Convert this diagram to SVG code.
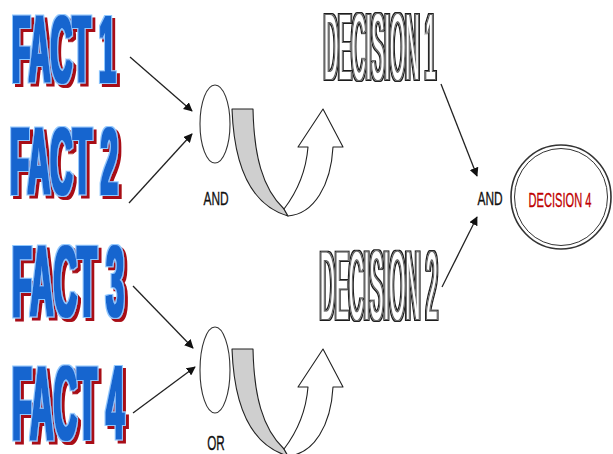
<svg xmlns="http://www.w3.org/2000/svg" width="613" height="454" viewBox="0 0 613 454">
  <defs>
    <marker id="arrowHead" viewBox="0 0 10 10" refX="9" refY="5" markerWidth="9" markerHeight="9" markerUnits="userSpaceOnUse" orient="auto">
      <path d="M0,0 L10,5 L0,10 Z" fill="#111"/>
    </marker>

    <!-- heavy blue lettering: thickened face, pale blue halo, dark red drop shadow -->
    <filter id="factFx" filterUnits="userSpaceOnUse" x="0" y="0" width="613" height="454">
      <feMorphology in="SourceAlpha" operator="dilate" radius="0.8" result="face"/>
      <feMorphology in="SourceAlpha" operator="dilate" radius="2.2" result="halo"/>
      <feOffset in="halo" dx="3" dy="3" result="shadowShape"/>
      <feFlood flood-color="#a80c14"/>
      <feComposite in2="shadowShape" operator="in" result="shadow"/>
      <feFlood flood-color="#8fc8ff"/>
      <feComposite in2="halo" operator="in" result="haloC"/>
      <feFlood flood-color="#1565cf"/>
      <feComposite in2="face" operator="in" result="faceC"/>
      <feMerge>
        <feMergeNode in="shadow"/>
        <feMergeNode in="haloC"/>
        <feMergeNode in="faceC"/>
      </feMerge>
    </filter>

    <!-- hollow lettering with a double outline -->
    <filter id="hollowFx" filterUnits="userSpaceOnUse" x="0" y="0" width="613" height="454">
      <feMorphology in="SourceAlpha" operator="dilate" radius="0.8" result="d1"/>
      <feMorphology in="SourceAlpha" operator="dilate" radius="1.4" result="d2"/>
      <feMorphology in="SourceAlpha" operator="dilate" radius="2.2" result="d3"/>
      <feComposite in="d1" in2="SourceAlpha" operator="out" result="inner"/>
      <feComposite in="d3" in2="d2" operator="out" result="outer"/>
      <feFlood flood-color="#666"/>
      <feComposite in2="inner" operator="in" result="innerC"/>
      <feFlood flood-color="#1a1a1a"/>
      <feComposite in2="outer" operator="in" result="outerC"/>
      <feFlood flood-color="#fff"/>
      <feComposite in2="SourceAlpha" operator="in" result="fillC"/>
      <feMerge>
        <feMergeNode in="fillC"/>
        <feMergeNode in="innerC"/>
        <feMergeNode in="outerC"/>
      </feMerge>
    </filter>

    <style>
      .fact { font-family: "Liberation Sans", Arial, sans-serif; font-weight: bold; fill: #1565cf; }
      .decision { font-family: "Liberation Sans", Arial, sans-serif; fill: #fff; }
      .label { font-family: "Liberation Sans", Arial, sans-serif; text-anchor: middle; fill: #111; stroke: #111; stroke-width: 0.35; }
      .label.red { fill: #c00000; stroke: #c00000; }
      .conn { stroke: #222; stroke-width: 1.3; fill: none; marker-end: url(#arrowHead); }
      .gate { fill: #fff; stroke: #333; stroke-width: 1.1; }
      .band { fill: #cfcfcf; stroke: #222; stroke-width: 1.1; stroke-linejoin: round; }
      .turn { fill: #fff; stroke: #222; stroke-width: 1.1; stroke-linejoin: round; }
      .ring { fill: #fff; stroke: #333; }
    </style>
  </defs>

  <!-- facts -->
  <g id="fact1" filter="url(#factFx)">
    <text class="fact" font-size="94" transform="translate(12,82) scale(0.315,1)" textLength="329" lengthAdjust="spacingAndGlyphs">FACT 1</text>
  </g>
  <g id="fact2" filter="url(#factFx)">
    <text class="fact" font-size="94" transform="translate(10,194) scale(0.328,1)" textLength="329" lengthAdjust="spacingAndGlyphs">FACT 2</text>
  </g>
  <g id="fact3" filter="url(#factFx)">
    <text class="fact" font-size="100" transform="translate(12,316) scale(0.32,1)" textLength="350" lengthAdjust="spacingAndGlyphs">FACT 3</text>
  </g>
  <g id="fact4" filter="url(#factFx)">
    <text class="fact" font-size="104" transform="translate(12,439) scale(0.308,1)" textLength="364" lengthAdjust="spacingAndGlyphs">FACT 4</text>
  </g>

  <!-- AND gate with turning arrow -->
  <g id="and-gate">
    <ellipse class="gate" cx="215" cy="124" rx="15" ry="39"/>
    <path class="band" d="M232,109 L253,109 C254,155 262,188 284,209 L288,216 C250,205 234,165 232,109 Z"/>
    <path class="turn" d="M284,209 C297,192 306,172 308,147 L298,147 L323,109 L343,147 L333,147 C331,185 314,214 288,216 Z"/>
    <text class="label" font-size="18" transform="translate(216,205) scale(0.66,1)">AND</text>
  </g>

  <!-- OR gate with turning arrow -->
  <g id="or-gate">
    <ellipse class="gate" cx="215" cy="370" rx="15" ry="43"/>
    <g transform="translate(0,240)">
      <path class="band" d="M232,109 L253,109 C254,155 262,188 284,209 L288,216 C250,205 234,165 232,109 Z"/>
      <path class="turn" d="M284,209 C297,192 306,172 308,147 L298,147 L323,109 L343,147 L333,147 C331,185 314,214 288,216 Z"/>
    </g>
    <text class="label" font-size="19.5" transform="translate(216,450) scale(0.6,1)">OR</text>
  </g>

  <!-- decisions -->
  <g id="decision1" filter="url(#hollowFx)">
    <text class="decision" font-size="92" transform="translate(324,79) scale(0.2148,1)" textLength="521.5" lengthAdjust="spacingAndGlyphs">DECISION 1</text>
  </g>
  <g id="decision2" filter="url(#hollowFx)">
    <text class="decision" font-size="97" transform="translate(320,319) scale(0.2138,1)" textLength="549.8" lengthAdjust="spacingAndGlyphs">DECISION 2</text>
  </g>

  <g id="and-final">
    <text class="label" font-size="18" transform="translate(490,205) scale(0.66,1)">AND</text>
  </g>

  <g id="decision4">
    <ellipse class="ring" cx="561" cy="197" rx="50" ry="52" stroke-width="1.6"/>
    <ellipse class="ring" cx="561" cy="197" rx="46.5" ry="48.5" stroke-width="1"/>
    <text class="label red" font-size="21" transform="translate(560,207) scale(0.53,1)">DECISION 4</text>
  </g>

  <!-- connectors -->
  <g id="connectors">
    <line class="conn" x1="130" y1="57" x2="192" y2="111"/>
    <line class="conn" x1="129" y1="203" x2="192" y2="134"/>
    <line class="conn" x1="133" y1="286" x2="193" y2="348"/>
    <line class="conn" x1="133" y1="413" x2="195" y2="367"/>
    <line class="conn" x1="441" y1="84" x2="477" y2="176"/>
    <line class="conn" x1="442" y1="287" x2="477" y2="217"/>
  </g>
</svg>
